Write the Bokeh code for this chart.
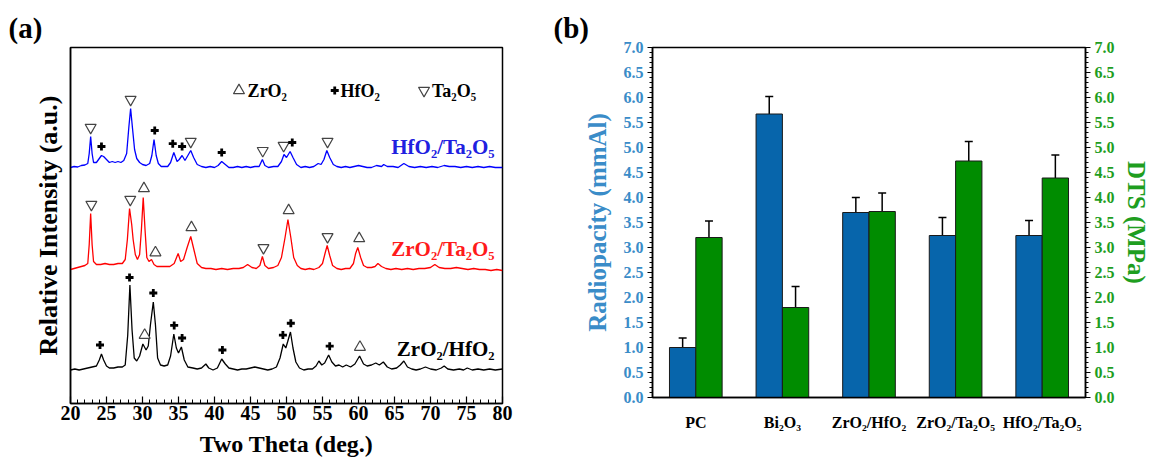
import numpy as np
from bokeh.plotting import figure
from bokeh.layouts import row
from bokeh.models import (ColumnDataSource, Range1d, LinearAxis, FactorRange, Whisker,
                          TeeHead, SingleIntervalTicker, FixedTicker, PrintfTickFormatter)
from bokeh.transform import dodge
from bokeh.core.properties import value
from bokeh.embed import file_html
from bokeh.resources import INLINE

# ---------------------------------------------------------------------------
# (a) XRD patterns: two theta (deg.) and intensity (a.u.) above each baseline
# ---------------------------------------------------------------------------
zh_theta = [20.0, 20.6, 21.2, 21.8, 22.4, 23.0, 23.6, 24.0, 24.3, 24.6, 25.0, 25.4, 26.0, 26.6,
            27.2, 27.6, 27.95, 28.25, 28.55, 28.85, 29.2, 29.6, 30.05, 30.5, 30.8, 31.1, 31.5,
            31.8, 32.1, 32.5, 33.0, 33.5, 33.9, 34.35, 34.7, 35.0, 35.4, 35.8, 36.3, 37.0, 37.6,
            38.2, 38.8, 39.2, 39.8, 40.4, 41.0, 41.5, 42.0, 42.6, 43.2, 43.8, 44.4, 45.0, 45.6,
            46.2, 46.8, 47.4, 48.0, 48.6, 49.1, 49.55, 49.9, 50.15, 50.55, 50.9, 51.3, 51.8,
            52.4, 53.0, 53.6, 54.1, 54.5, 54.9, 55.3, 55.85, 56.3, 56.8, 57.3, 57.8, 58.3, 58.9,
            59.5, 60.15, 60.7, 61.2, 61.8, 62.4, 62.9, 63.45, 64.0, 64.6, 65.3, 65.8, 66.3, 66.8,
            67.4, 68.0, 68.6, 69.3, 70.0, 70.8, 71.5, 71.9, 72.4, 73.2, 74.0, 74.6, 75.1, 75.8,
            76.6, 77.4, 78.2, 79.0, 80.0]
zh_int = [0, 1, 0, 1, 2, 3, 4, 10, 16, 10, 4, 2, 2, 3,
          3, 5, 35, 85, 40, 12, 9, 14, 26, 20, 24, 45, 68,
          45, 12, 5, 4, 5, 14, 36, 22, 17, 23, 10, 3, 2, 1,
          2, 6, 2, 0, 2, 11, 6, 2, 1, 0, 1, 1, 2, 3,
          2, 1, 0, 1, 3, 12, 26, 22, 28, 38, 22, 8, 2,
          0, 1, 1, 4, 9, 5, 7, 15, 8, 4, 5, 3, 5, 3,
          6, 14, 6, 4, 5, 7, 5, 8, 3, 1, 2, 5, 9, 3,
          1, 0, 1, 3, 1, 0, 2, 4, 1, 0, 1, 0, 2, 0,
          1, 0, 1, 0, 1]

zt_theta = [20.0, 20.5, 21.0, 21.5, 22.0, 22.4, 22.6, 22.8, 23.0, 23.2, 23.6, 24.2, 24.8, 25.4,
            26.0, 26.6, 27.2, 27.6, 27.9, 28.2, 28.5, 28.7, 29.0, 29.3, 29.6, 29.85, 30.1, 30.35,
            30.6, 30.9, 31.25, 31.6, 32.0, 32.6, 33.2, 33.8, 34.4, 34.95, 35.3, 35.7, 36.2, 36.7,
            37.2, 37.6, 38.2, 38.8, 39.5, 40.2, 41.0, 41.8, 42.6, 43.4, 44.0, 44.6, 45.2, 45.8,
            46.3, 46.65, 47.0, 47.5, 48.2, 48.8, 49.3, 49.8, 50.2, 50.6, 51.0, 51.5, 52.0, 52.6,
            53.2, 53.8, 54.5, 55.0, 55.35, 55.65, 56.0, 56.4, 57.0, 57.6, 58.2, 58.8, 59.3, 59.6,
            59.9, 60.3, 60.7, 61.2, 61.8, 62.3, 62.7, 63.2, 63.8, 64.5, 65.2, 66.0, 66.8, 67.6,
            68.4, 69.2, 70.0, 70.6, 71.2, 72.0, 72.8, 73.6, 74.4, 75.2, 76.0, 76.8, 77.6, 78.4,
            79.2, 80.0]
zt_int = [0, 1, 2, 3, 4, 6, 25, 56, 25, 8, 5, 5, 6, 5,
          5, 6, 6, 10, 30, 61, 45, 30, 15, 10, 15, 40, 72, 40,
          12, 8, 10, 5, 3, 3, 3, 3, 6, 16, 8, 10, 22, 33,
          18, 6, 2, 1, 1, 0, 1, 0, 1, 1, 2, 5, 2, 1,
          4, 13, 4, 1, 2, 4, 12, 32, 50, 32, 12, 4, 1, 0,
          1, 0, 2, 6, 16, 24, 14, 4, 1, 0, 1, 1, 6, 16,
          22, 12, 4, 2, 2, 3, 6, 3, 1, 0, 1, 0, 1, 0,
          1, 1, 2, 5, 2, 1, 1, 2, 1, 0, 1, 0, 0, -1,
          0, -1]

ht_theta = [20.0, 20.5, 21.0, 21.5, 22.0, 22.4, 22.6, 22.8, 23.0, 23.2, 23.6, 24.0, 24.3, 24.6,
            25.0, 25.4, 25.8, 26.2, 26.6, 27.0, 27.4, 27.8, 28.1, 28.35, 28.6, 28.9, 29.2, 29.6,
            30.0, 30.5, 31.0, 31.3, 31.6, 31.9, 32.2, 32.6, 33.0, 33.5, 33.9, 34.35, 34.8, 35.1,
            35.5, 35.9, 36.3, 36.7, 37.1, 37.6, 38.2, 38.8, 39.4, 40.0, 40.5, 41.0, 41.5, 42.0,
            42.6, 43.2, 43.8, 44.4, 45.0, 45.6, 46.2, 46.65, 47.0, 47.5, 48.2, 48.8, 49.3, 49.65,
            50.0, 50.5, 50.9, 51.4, 52.0, 52.6, 53.2, 53.8, 54.4, 54.8, 55.2, 55.6, 56.0, 56.5,
            57.0, 57.6, 58.2, 58.8, 59.4, 60.0, 60.6, 61.2, 61.8, 62.5, 63.2, 63.5, 64.0, 64.8,
            65.5, 66.3, 67.0, 67.8, 68.6, 69.4, 70.2, 71.0, 71.9, 72.6, 73.4, 74.2, 75.0, 75.8,
            76.6, 77.4, 78.2, 79.0, 80.0]
ht_int = [0, 1, 0.5, 2, 2.5, 4, 14, 31, 14, 5, 5, 9, 12, 11,
          8, 5, 6, 5, 6, 5, 7, 14, 40, 59, 40, 18, 9, 5,
          3, 2, 4, 12, 28, 12, 4, 1, 1, 1, 5, 15, 6, 8,
          12, 7, 12, 17, 10, 3, 1, 0, 1, 0, 2, 6, 3, 0,
          0, 1, 0, 1, 0, 1, 1, 8, 2, 0, 1, 1, 6, 13,
          10, 16, 10, 3, 0, 1, 0, 1, 4, 3, 8, 17, 10, 3,
          1, 0, 1, 0, 1, 2, 1, 0, 0, 2, 1, 3, 1, 1,
          0, 4, 1, 0, 1, 0, 1, 0, 2, 1, 1, 0, 1, 0,
          1, 0, 1, 0, 0]

# Reflections marked above each pattern (two theta, deg.)
zh_hfo2_peaks = [24.1, 28.2, 31.5, 34.4, 35.5, 41.1, 49.5, 50.6, 56.0]
zh_zro2_peaks = [30.3, 60.2]
zt_ta2o5_peaks = [22.9, 28.3, 46.8, 55.7]
zt_zro2_peaks = [30.2, 31.8, 36.8, 50.3, 60.1]
ht_ta2o5_peaks = [22.8, 28.35, 36.7, 46.7, 49.6, 55.7]
ht_hfo2_peaks = [24.3, 31.7, 34.2, 35.5, 41.0, 50.8]

# ---------------------------------------------------------------------------
# (b) radiopacity and diametral tensile strength
# ---------------------------------------------------------------------------
samples = ["PC", "Bi₂O₃", "ZrO₂/HfO₂", "ZrO₂/Ta₂O₅", "HfO₂/Ta₂O₅"]
radiopacity = [1.00, 5.67, 3.70, 3.24, 3.24]
radiopacity_sd = [0.19, 0.35, 0.30, 0.36, 0.30]
dts = [3.20, 1.80, 3.72, 4.73, 4.39]
dts_sd = [0.33, 0.42, 0.37, 0.39, 0.46]

SERIF = "Liberation Serif"
BLUE_TXT = "#3a8cc8"
GREEN_TXT = "#1f9e1f"


def panel_tag(p, text, offset):
    p.title.text = text
    p.title.align = "left"
    p.title.offset = offset
    p.title.text_font = SERIF
    p.title.text_font_style = "bold"
    p.title.text_font_size = "29px"
    p.title.text_color = "black"
    p.title.standoff = 8


# ======================= panel (a) =======================
p1 = figure(frame_width=432, frame_height=356, x_range=Range1d(20, 80), y_range=Range1d(0, 356),
            min_border_left=70, min_border_right=46, min_border_top=46, min_border_bottom=59,
            output_backend="svg", toolbar_location=None)
p1.grid.visible = False
p1.outline_line_color = "black"
p1.outline_line_width = 1.5
p1.background_fill_color = "white"
p1.border_fill_color = "white"
panel_tag(p1, "(a)", -62)

xa = p1.xaxis[0]
xa.ticker = SingleIntervalTicker(interval=5, num_minor_ticks=5)
xa.major_tick_in = 7
xa.major_tick_out = 0
xa.minor_tick_in = 4
xa.minor_tick_out = 0
xa.axis_line_width = 1.5
xa.major_tick_line_width = 1.2
xa.major_label_standoff = 2
xa.major_label_text_font = SERIF
xa.major_label_text_font_style = "bold"
xa.major_label_text_font_size = "20px"
xa.major_label_text_color = "black"
xa.axis_label = "Two Theta (deg.)"
xa.axis_label_standoff = 8
xa.axis_label_text_font = SERIF
xa.axis_label_text_font_style = "bold"
xa.axis_label_text_font_size = "24px"
xa.axis_label_text_color = "black"

ya = p1.yaxis[0]
ya.ticker = FixedTicker(ticks=[])
ya.major_tick_out = 0
ya.minor_tick_out = 0
ya.axis_line_width = 1.5
ya.axis_label = "Relative Intensity (a.u.)"
ya.axis_label_standoff = 8
ya.axis_label_text_font = SERIF
ya.axis_label_text_font_style = "bold"
ya.axis_label_text_font_size = "26px"
ya.axis_label_text_color = "black"

# stacking offsets of the three patterns
patterns = [
    (zh_theta, zh_int, 33.5, "black", "ZrO₂/HfO₂", "black"),
    (zt_theta, zt_int, 134.0, "#ff0000", "ZrO₂/Ta₂O₅", "#ff1a1a"),
    (ht_theta, ht_int, 236.0, "#0000ff", "HfO₂/Ta₂O₅", "#2020e0"),
]
for theta, inten, off, col, name, txt_col in patterns:
    y = np.asarray(inten, dtype=float) + off
    p1.line(theta, y, line_color=col, line_width=1.3)
    p1.text(x=[78.9], y=[off + 21], text=[name], text_align="right", text_baseline="middle",
            text_font=value(SERIF), text_font_style="bold", text_font_size="21px",
            text_color=txt_col)


def marker_heights(theta, inten, off, peaks, gap=9.0, half=0.4):
    out = []
    for pk in peaks:
        xs = np.linspace(pk - half, pk + half, 41)
        out.append(float(np.interp(xs, theta, inten).max()) + off + gap)
    return out


tri_style = dict(size=11, fill_color="white", line_color="#444444", line_width=1.2)
plus_style = dict(marker="cross", size=8, line_color="black", line_width=2.8)

p1.scatter(zh_hfo2_peaks, marker_heights(zh_theta, zh_int, 33.5, zh_hfo2_peaks), **plus_style)
p1.scatter(zh_zro2_peaks, marker_heights(zh_theta, zh_int, 33.5, zh_zro2_peaks),
           marker="triangle", **tri_style)
p1.scatter(zt_ta2o5_peaks, marker_heights(zt_theta, zt_int, 134.0, zt_ta2o5_peaks),
           marker="inverted_triangle", **tri_style)
p1.scatter(zt_zro2_peaks, marker_heights(zt_theta, zt_int, 134.0, zt_zro2_peaks),
           marker="triangle", **tri_style)
p1.scatter(ht_ta2o5_peaks, marker_heights(ht_theta, ht_int, 236.0, ht_ta2o5_peaks),
           marker="inverted_triangle", **tri_style)
p1.scatter(ht_hfo2_peaks, marker_heights(ht_theta, ht_int, 236.0, ht_hfo2_peaks), **plus_style)

# phase key
p1.scatter([43.4], [313], marker="triangle", **tri_style)
p1.scatter([56.7], [313], **plus_style)
p1.scatter([69.1], [313], marker="inverted_triangle", **tri_style)
p1.text(x=[44.6, 57.5, 70.2], y=[313, 313, 313], text=["ZrO₂", "HfO₂", "Ta₂O₅"],
        text_align="left", text_baseline="middle", text_font=value(SERIF),
        text_font_style="bold", text_font_size="18px", text_color="black")

# ======================= panel (b) =======================
lo_r = [v - s for v, s in zip(radiopacity, radiopacity_sd)]
hi_r = [v + s for v, s in zip(radiopacity, radiopacity_sd)]
lo_d = [v - s for v, s in zip(dts, dts_sd)]
hi_d = [v + s for v, s in zip(dts, dts_sd)]
src = ColumnDataSource(dict(sample=samples, rad=radiopacity, rad_lo=lo_r, rad_hi=hi_r,
                            dts=dts, dts_lo=lo_d, dts_hi=hi_d))

p2 = figure(frame_width=433, frame_height=350, x_range=FactorRange(*samples),
            y_range=Range1d(0, 7), min_border_left=104, min_border_right=64,
            min_border_top=47, min_border_bottom=64,
            output_backend="svg", toolbar_location=None)
p2.extra_y_ranges = {"dts": Range1d(0, 7)}
p2.grid.visible = False
p2.outline_line_color = "black"
p2.outline_line_width = 1.5
p2.background_fill_color = "white"
p2.border_fill_color = "white"
panel_tag(p2, "(b)", -99)

BAR_W = 0.304
p2.vbar(x=dodge("sample", -BAR_W / 2, range=p2.x_range), top="rad", width=BAR_W, bottom=0,
        source=src, fill_color="#0765ab", line_color="#1a1a1a", line_width=1)
p2.vbar(x=dodge("sample", BAR_W / 2, range=p2.x_range), top="dts", width=BAR_W, bottom=0,
        source=src, fill_color="#008c00", line_color="#1a1a1a", line_width=1,
        y_range_name="dts")

for base_off, lo, hi, rng in [(-BAR_W / 2, "rad_lo", "rad_hi", "default"),
                              (BAR_W / 2, "dts_lo", "dts_hi", "dts")]:
    w = Whisker(base=dodge("sample", base_off, range=p2.x_range), lower=lo, upper=hi,
                source=src, line_color="black", line_width=1.5, y_range_name=rng,
                upper_head=TeeHead(size=8, line_width=1.5, line_color="black"),
                lower_head=TeeHead(size=8, line_width=1.5, line_color="black"))
    p2.add_layout(w)

bx = p2.xaxis[0]
bx.major_tick_line_color = None
bx.minor_tick_line_color = None
bx.axis_line_width = 1.5
bx.major_label_standoff = 10
bx.major_label_text_font = SERIF
bx.major_label_text_font_style = "bold"
bx.major_label_text_font_size = "16px"
bx.major_label_text_color = "black"


def style_value_axis(ax, color, title, title_standoff):
    ax.ticker = SingleIntervalTicker(interval=0.5, num_minor_ticks=5)
    ax.formatter = PrintfTickFormatter(format="%.1f")
    ax.major_tick_in = 0
    ax.major_tick_out = 5
    ax.minor_tick_in = 0
    ax.minor_tick_out = 3
    ax.axis_line_width = 1.5
    ax.major_tick_line_width = 1.2
    ax.major_label_standoff = 4
    ax.major_label_text_font = SERIF
    ax.major_label_text_font_style = "bold"
    ax.major_label_text_font_size = "16px"
    ax.major_label_text_color = color
    ax.axis_label = title
    ax.axis_label_standoff = title_standoff
    ax.axis_label_text_font = SERIF
    ax.axis_label_text_font_style = "bold"
    ax.axis_label_text_font_size = "25px"
    ax.axis_label_text_color = color


style_value_axis(p2.yaxis[0], BLUE_TXT, "Radiopacity (mmAl)", 10)
right_axis = LinearAxis(y_range_name="dts")
style_value_axis(right_axis, GREEN_TXT, "DTS (MPa)", 5)
p2.add_layout(right_axis, "right")

layout = row(p1, p2)
open("out.html", "w").write(file_html(layout, INLINE))
